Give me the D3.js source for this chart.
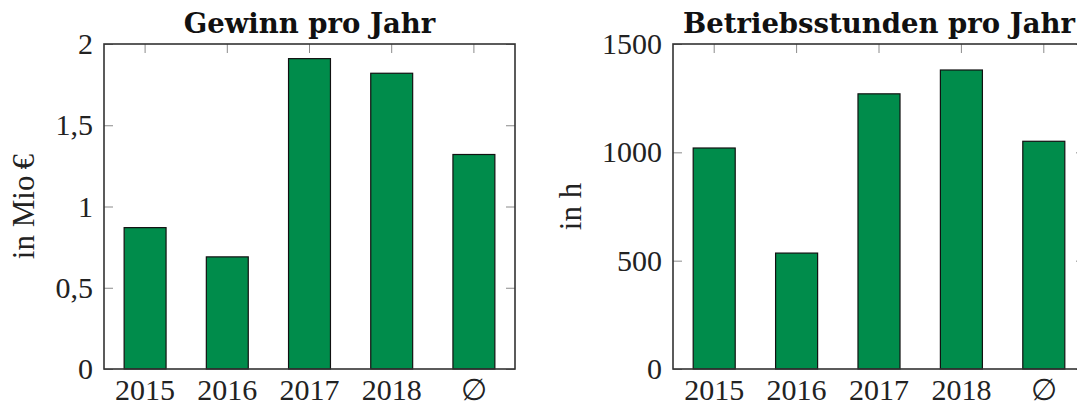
<!DOCTYPE html>
<html>
<head>
<meta charset="utf-8">
<script src="https://cdn.jsdelivr.net/npm/d3@7"></script>
<style>
  html, body { margin: 0; padding: 0; background: #fff; overflow: hidden; }
  svg { display: block; }
</style>
</head>
<body>
<svg id="chart" width="1077" height="405"></svg>
<script>
// ---- data ----
const categories = ["2015", "2016", "2017", "2018", "\u2205"];
const profitValues = [0.87, 0.69, 1.91, 1.82, 1.32];
const hoursValues = [1020, 535, 1270, 1380, 1051];
const profitTicks = [0, 0.5, 1, 1.5, 2];
const hoursTicks = [0, 500, 1000, 1500];
const profitTitle = "Gewinn pro Jahr";
const hoursTitle = "Betriebsstunden pro Jahr";
const profitLabel = "in Mio\u2009€";
const hoursLabel = "in h";

// ---- style ----
const green = "#008c4b";
const frameColor = "#333";
const tickColor = "#8a8a8a";
const serif = "'Liberation Serif', 'Times New Roman', serif";
const titleFont = "'DejaVu Serif', serif";

const svg = d3.select("#chart");

function panel(opts) {
  const { x0, x1, y0, y1, values, domain, ticks, fmt, title, label, labelX } = opts;
  const g = svg.append("g");

  const x = d3.scaleBand().domain(categories).range([x0, x1])
    .paddingInner(0.49).paddingOuter(0.245);
  const y = d3.scaleLinear().domain(domain).range([y1, y0]);

  const tickLen = 9;

  // top ticks (no labels)
  g.append("g").attr("transform", `translate(0,${y0})`)
    .call(d3.axisTop(x).tickSize(-tickLen).tickFormat(""))
    .call(a => a.select(".domain").remove())
    .call(a => a.selectAll("line").attr("stroke", tickColor));
  // right ticks
  g.append("g").attr("transform", `translate(${x1},0)`)
    .call(d3.axisRight(y).tickValues(ticks).tickSize(-tickLen).tickFormat(""))
    .call(a => a.select(".domain").remove())
    .call(a => a.selectAll("line").attr("stroke", tickColor));
  // left axis with labels
  g.append("g").attr("transform", `translate(${x0},0)`)
    .call(d3.axisLeft(y).tickValues(ticks).tickSize(-tickLen).tickPadding(11).tickFormat(fmt))
    .call(a => a.select(".domain").remove())
    .call(a => a.selectAll("line").attr("stroke", tickColor))
    .call(a => a.selectAll("text").attr("font-family", serif).attr("font-size", 30).attr("fill", "#222"));
  // bottom axis with labels
  g.append("g").attr("transform", `translate(0,${y1})`)
    .call(d3.axisBottom(x).tickSize(-tickLen).tickPadding(10))
    .call(a => a.select(".domain").remove())
    .call(a => a.selectAll("line").attr("stroke", tickColor))
    .call(a => a.selectAll("text").attr("font-family", serif).attr("font-size", 30).attr("fill", "#222"));

  // bars
  g.append("g").selectAll("rect")
    .data(values)
    .join("rect")
    .attr("x", (d, i) => x(categories[i]))
    .attr("width", x.bandwidth())
    .attr("y", d => y(d))
    .attr("height", d => y(domain[0]) - y(d))
    .attr("fill", green)
    .attr("stroke", "#111")
    .attr("stroke-width", 1.2);

  // frame
  g.append("rect")
    .attr("x", x0).attr("y", y0)
    .attr("width", x1 - x0).attr("height", y1 - y0)
    .attr("fill", "none")
    .attr("stroke", frameColor)
    .attr("stroke-width", 1.6);

  // title
  g.append("text")
    .attr("x", (x0 + x1) / 2).attr("y", 33)
    .attr("text-anchor", "middle")
    .attr("font-family", titleFont)
    .attr("font-weight", "bold")
    .attr("font-size", 27.5)
    .attr("fill", "#111")
    .text(title);

  // y label
  g.append("text")
    .attr("transform", `translate(${labelX},${(y0 + y1) / 2}) rotate(-90)`)
    .attr("text-anchor", "middle")
    .attr("dominant-baseline", "central")
    .attr("font-family", serif)
    .attr("font-size", 31)
    .attr("fill", "#222")
    .text(label);
}

panel({
  x0: 104, x1: 515, y0: 44, y1: 369,
  values: profitValues, domain: [0, 2], ticks: profitTicks,
  fmt: d => String(d).replace(".", ","),
  title: profitTitle, label: profitLabel, labelX: 23
});

panel({
  x0: 673, x1: 1085, y0: 44, y1: 369,
  values: hoursValues, domain: [0, 1500], ticks: hoursTicks,
  fmt: d => String(d),
  title: hoursTitle, label: hoursLabel, labelX: 570
});
</script>
</body>
</html>
